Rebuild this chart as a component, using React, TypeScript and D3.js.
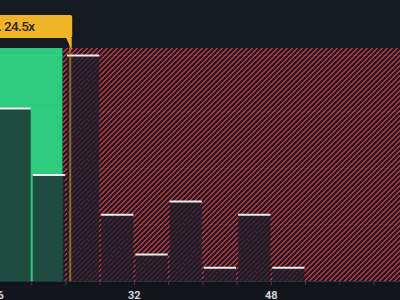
import React from "react";
import * as d3 from "d3";

const binStarts = [16, 20, 24, 28, 32, 36, 40, 44, 48];
const binWidth = 4;
const counts = [13, 8, 17, 5, 2, 6, 1, 5, 1];
const tickValues = [16, 20, 24, 28, 32, 36, 40, 44, 48, 52, 56, 60, 64];
const labelValues = [16, 32, 48];
const fairLimit = 23.6;
const markerValue = 24.5;
const markerLabel = "Industry Avg. 24.5x";

const W = 400;
const H = 300;
const P = 5;

export default function App() {
  const x = d3.scaleLinear().domain([20, 60]).range([31.7, 374]);
  const y = d3.scaleLinear().domain([0, 17]).range([281, 55.5]);
  const plotTop = 48;
  const plotBottom = 281;
  const xMin = x(16);
  const xMax = x(64);
  const xFair = x(fairLimit);
  const xMark = x(markerValue);
  const gridVals = d3.range(1, 5).map((i) => (17 / 4) * i);

  const bars = binStarts.map((b, i) => ({
    x0: x(b) + 1,
    x1: x(b + binWidth) - 1,
    top: y(counts[i]),
  }));

  const hatchPx: { c: number; r: number }[] = [];
  d3.range(P).forEach((r) => {
    const c0 = (P - 1 - r + P) % P;
    hatchPx.push({ c: c0, r });
    hatchPx.push({ c: (c0 + 1) % P, r });
  });

  return (
    <div style={{ position: "fixed", left: 0, top: 0, width: W, height: H }}>
      <svg width={W} height={H} style={{ display: "block" }}>
        <defs>
          <pattern id="hatch" patternUnits="userSpaceOnUse" x={0} y={0} width={P} height={P}>
            <rect width={P} height={P} fill="#1c1c27" shapeRendering="crispEdges" />
            {hatchPx.map((p, i) => (
              <rect key={i} x={p.c} y={p.r} width={1} height={1} fill="#bc313b" shapeRendering="crispEdges" />
            ))}
          </pattern>
          <clipPath id="clipGreen">
            <rect x={-50} y={0} width={xFair + 50} height={H} />
          </clipPath>
          <clipPath id="clipHatch">
            <rect x={xFair} y={0} width={W} height={H} />
          </clipPath>
        </defs>
        <rect x={0} y={0} width={W} height={H} fill="#151a21" />
        <rect x={0} y={plotBottom} width={W} height={H - plotBottom} fill="#12151b" />

        {/* regions */}
        <rect x={xMin - 10} y={plotTop} width={xFair - xMin + 10} height={plotBottom - plotTop} fill="#2ecb7f" />
        <rect x={Math.round(xFair)} y={plotTop} width={xMax - xFair} height={plotBottom - plotTop} fill="url(#hatch)" />

        {/* gridlines */}
        {gridVals.map((g, i) => (
          <line key={i} x1={xMin} x2={xMax} y1={y(g)} y2={y(g)} stroke="#ffffff" strokeOpacity={0.06} />
        ))}

        {/* bars */}
        <g clipPath="url(#clipGreen)">
          {bars.map((b, i) => (
            <rect key={i} x={b.x0} y={b.top} width={b.x1 - b.x0} height={plotBottom - b.top} fill="#1f4b3f" />
          ))}
        </g>
        <g clipPath="url(#clipHatch)">
          {bars.map((b, i) => (
            <rect key={i} x={b.x0} y={b.top} width={b.x1 - b.x0} height={plotBottom - b.top} fill="#1c1e2b" fillOpacity={0.75} />
          ))}
        </g>
        {bars.map((b, i) => (
          <line key={i} x1={b.x0} x2={b.x1} y1={b.top} y2={b.top} stroke="#ececec" strokeWidth={2} />
        ))}

        {/* axis */}
        <line x1={0} x2={W} y1={plotBottom + 0.5} y2={plotBottom + 0.5} stroke="#2c323b" />
        {tickValues.map((t) => (
          <line key={t} x1={x(t)} x2={x(t)} y1={plotBottom} y2={plotBottom + 4} stroke="#3b424c" />
        ))}
        {labelValues.map((t) => (
          <text key={t} x={x(t)} y={298.5} textAnchor="middle" fontFamily="Roboto, sans-serif" fontSize={11} fontWeight={700} fill="#d2d6dc">
            {t}
          </text>
        ))}

        {/* marker */}
        <line x1={xMark} x2={xMark} y1={40} y2={plotBottom} stroke="#f0b429" strokeOpacity={0.5} strokeWidth={2} />
        <path
          d={`M${xMark - 4},38 L${xMark + 1.5},38 L${xMark + 1.5},50 Z`}
          fill="#f0b429"
        />
        <rect x={-100} y={15} width={xMark + 102} height={23} rx={2} fill="#f0b429" />
        <text x={34.5} y={31} textAnchor="end" fontFamily="Roboto, sans-serif" fontSize={13.5} fontWeight={500} letterSpacing={-0.6} fill="#2a2414">
          {markerLabel}
        </text>
      </svg>
    </div>
  );
}
